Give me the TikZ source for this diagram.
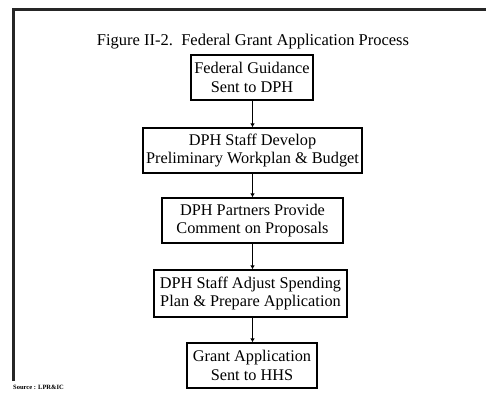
\documentclass[tikz,border=0pt]{standalone}
\usepackage{fontspec}
\setmainfont{Liberation Serif}
\usetikzlibrary{arrows.meta}
\begin{document}
\begin{tikzpicture}[x=1pt,y=-1pt,
  stepbox/.style={draw,line width=1.1pt,align=center,inner sep=0pt,
    font=\fontsize{16.3}{18.5}\selectfont},
  flow/.style={line width=1.4pt,-{Latex[length=4pt,width=4.5pt]}},
  frame/.style={line width=3pt,draw=black!85}]
  \useasboundingbox (0,0) rectangle (486,398);
  % outer frame (open at right and bottom)
  \coordinate (fb) at (13.5,381);
  \coordinate (fc) at (13.5,9.5);
  \coordinate (fr) at (487,9.5);
  \draw[frame] (fb) -- (fc) -- (fr);
  % title
  \node[font=\fontsize{16.5}{18}\selectfont] (title) at (253,42) {Figure II-2.\ \ Federal Grant Application Process};
  % process steps
  \node[stepbox,minimum width=122pt,minimum height=45pt] (s1) at (252,77.5)
    {Federal Guidance\\Sent to DPH};
  \node[stepbox,minimum width=219pt,minimum height=45pt] (s2) at (252.5,150.5)
    {DPH Staff Develop\\Preliminary Workplan \& Budget};
  \node[stepbox,minimum width=181pt,minimum height=45pt] (s3) at (252.5,220.5)
    {DPH Partners Provide\\Comment on Proposals};
  \node[stepbox,minimum width=193pt,minimum height=47pt] (s4) at (250.5,293.5)
    {DPH Staff Adjust Spending\\Plan \& Prepare Application};
  \node[stepbox,minimum width=130pt,minimum height=45pt] (s5) at (252,365.5)
    {Grant Application\\Sent to HHS};
  % connectors
  \draw[flow] (s1.south -| 252.5,0) -- (s2.north -| 252.5,0);
  \draw[flow] (s2.south -| 252.5,0) -- (s3.north -| 252.5,0);
  \draw[flow] (s3.south -| 252.5,0) -- (s4.north -| 252.5,0);
  \draw[flow] (s4.south -| 252.5,0) -- (s5.north -| 252.5,0);
  % source note
  \node[anchor=west,font=\fontsize{6.5}{7}\selectfont\bfseries,inner sep=0pt] (src) at (13,387) {Source : LPR\&IC};
\end{tikzpicture}
\end{document}
